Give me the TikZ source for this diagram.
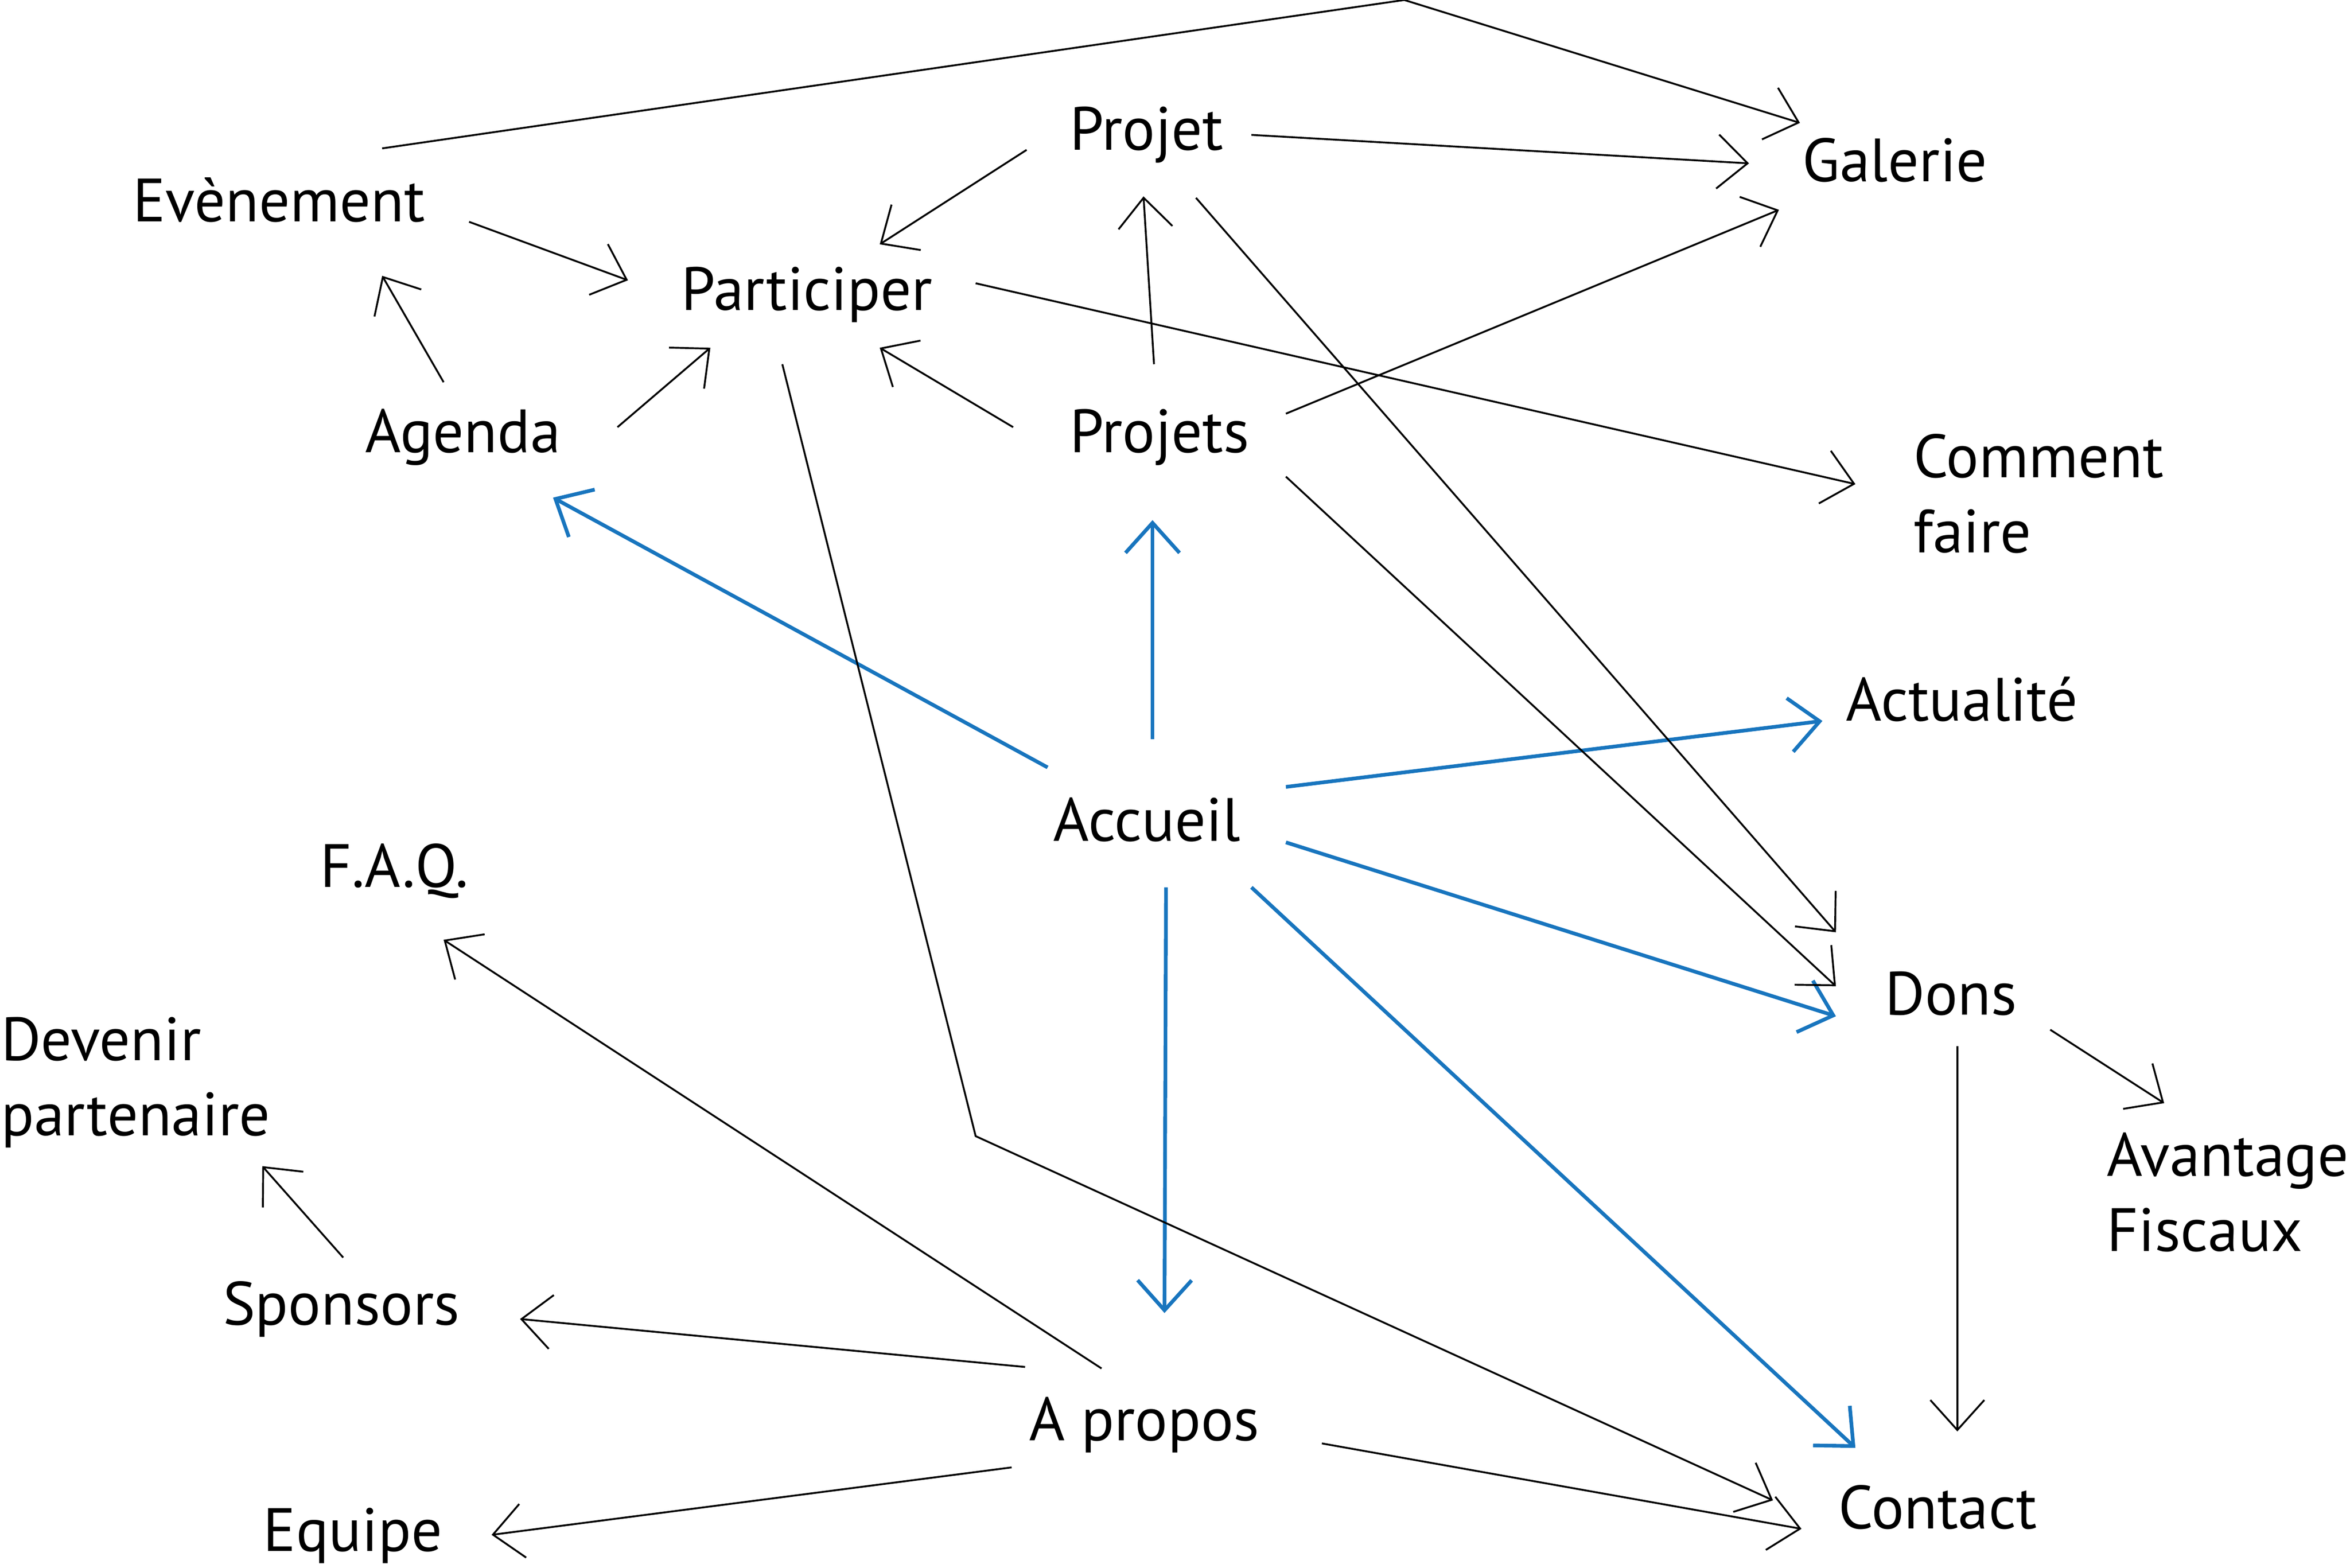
\documentclass[tikz,border=0pt]{standalone}
\usepackage{fontspec}
\newfontfamily\pagefont{PT Sans}
\usepackage{tikz}
\usetikzlibrary{arrows.meta}
\tikzset{
  page/.style={
    font=\pagefont\fontsize{11.6}{14.2}\selectfont,inner sep=0pt,anchor=base west,
  },
  pagetwo/.style={page,align=left,anchor=north west},
  link/.style={draw=black,line width=0.35pt,
    -{Straight Barb[length=2mm,width=3.6mm]}},
  mainlink/.style={draw=linkblue,line width=0.7pt,
    -{Straight Barb[length=2mm,width=3.6mm]}},
}

\begin{document}
\begin{tikzpicture}[x=0.01cm,y=-0.01cm]
% Defining colors
\definecolor{linkblue}{RGB}{24,117,190}

\useasboundingbox (0,0) rectangle (1568,1046);

% =:=:=:=:=:=:=:=:=:=:=:=:=:=:=:=:=:=:=
% Pages
% =:=:=:=:=:=:=:=:=:=:=:=:=:=:=:=:=:=:=
\node[page] (Evenement) at (88,148) {Evènement};
\node[page] (Projet) at (713,100) {Projet};
\node[page] (Galerie) at (1202,121) {Galerie};
\node[page] (Participer) at (454,207) {Participer};
\node[page] (Agenda) at (243,302) {Agenda};
\node[page] (Projets) at (713,302) {Projets};
\node[pagetwo] (Comment) at (1276,289) {Comment\\faire};
\node[page] (Actualite) at (1231,481) {Actualité};
\node[page] (Accueil) at (702,561) {Accueil};
\node[page] (FAQ) at (213,592) {F.A.Q.};
\node[pagetwo] (Devenir) at (0,678) {Devenir\\partenaire};
\node[page] (Dons) at (1257,677) {Dons};
\node[pagetwo] (Avantage) at (1405,755) {Avantage\\Fiscaux};
\node[page] (Sponsors) at (148,884) {Sponsors};
\node[page] (Apropos) at (686,961) {A propos};
\node[page] (Equipe) at (175,1035) {Equipe};
\node[page] (Contact) at (1226,1020) {Contact};

% bend points
\coordinate (apex) at (937,0);
\coordinate (bend) at (651,758);

% =:=:=:=:=:=:=:=:=:=:=:=:=:=:=:=:=:=:=
% Links from Accueil
% =:=:=:=:=:=:=:=:=:=:=:=:=:=:=:=:=:=:=
\draw[mainlink] ([shift={(-3,-49)}]Accueil.base west)
    -- ([shift={(126,30)}]Agenda.base west);
\draw[mainlink] ([shift={(67,-68)}]Accueil.base west)
    -- ([shift={(56,45)}]Projets.base west);
\draw[mainlink] ([shift={(156,-36)}]Accueil.base west)
    -- ([shift={(-15,0)}]Actualite.base west);
\draw[mainlink] ([shift={(156,1)}]Accueil.base west)
    -- ([shift={(-32,1)}]Dons.base west);
\draw[mainlink] ([shift={(76,31)}]Accueil.base west)
    -- ([shift={(91,-85)}]Apropos.base west);
\draw[mainlink] ([shift={(133,31)}]Accueil.base west)
    -- ([shift={(12,-54)}]Contact.base west);

% =:=:=:=:=:=:=:=:=:=:=:=:=:=:=:=:=:=:=
% Upper links
% =:=:=:=:=:=:=:=:=:=:=:=:=:=:=:=:=:=:=
\draw[link] ([shift={(167,-49)}]Evenement.base west)
    -- (apex) -- ([shift={(-1,-39)}]Galerie.base west);
\draw[link] ([shift={(122,-10)}]Projet.base west)
    -- ([shift={(-35,-12)}]Galerie.base west);
\draw[link] ([shift={(145,-26)}]Projets.base west)
    -- ([shift={(-15,19)}]Galerie.base west);
\draw[link] ([shift={(197,-18)}]Participer.base west)
    -- ([shift={(-38,34)}]Comment.north west);
\draw[link] ([shift={(-28,0)}]Projet.base west)
    -- ([shift={(133,-44)}]Participer.base west);
\draw[link] ([shift={(225,0)}]Evenement.base west)
    -- ([shift={(-35,-20)}]Participer.base west);
\draw[link] ([shift={(53,-47)}]Agenda.base west)
    -- ([shift={(167,36)}]Evenement.base west);
\draw[link] ([shift={(169,-17)}]Agenda.base west)
    -- ([shift={(20,25)}]Participer.base west);
\draw[link] ([shift={(-37,-17)}]Projets.base west)
    -- ([shift={(133,25)}]Participer.base west);
\draw[link] ([shift={(57,-59)}]Projets.base west)
    -- ([shift={(50,31)}]Projet.base west);

% =:=:=:=:=:=:=:=:=:=:=:=:=:=:=:=:=:=:=
% Links down to Dons and Contact
% =:=:=:=:=:=:=:=:=:=:=:=:=:=:=:=:=:=:=
\draw[link] ([shift={(68,36)}]Participer.base west)
    -- (bend) -- ([shift={(-43,-19)}]Contact.base west);
\draw[link] ([shift={(85,32)}]Projet.base west)
    -- ([shift={(-32,-55)}]Dons.base west);
\draw[link] ([shift={(145,16)}]Projets.base west)
    -- ([shift={(-32,-19)}]Dons.base west);
\draw[link] ([shift={(49,21)}]Dons.base west)
    -- ([shift={(80,-65)}]Contact.base west);
\draw[link] ([shift={(111,10)}]Dons.base west)
    -- ([shift={(39,-19)}]Avantage.north west);

% =:=:=:=:=:=:=:=:=:=:=:=:=:=:=:=:=:=:=
% Links from A propos
% =:=:=:=:=:=:=:=:=:=:=:=:=:=:=:=:=:=:=
\draw[link] ([shift={(49,-48)}]Apropos.base west)
    -- ([shift={(83,35)}]FAQ.base west);
\draw[link] ([shift={(-2,-49)}]Apropos.base west)
    -- ([shift={(199,-4)}]Sponsors.base west);
\draw[link] ([shift={(81,-45)}]Sponsors.base west)
    -- ([shift={(175,100)}]Devenir.north west);
\draw[link] ([shift={(-11,18)}]Apropos.base west)
    -- ([shift={(153,-11)}]Equipe.base west);
\draw[link] ([shift={(196,2)}]Apropos.base west)
    -- ([shift={(-24,0)}]Contact.base west);

\end{tikzpicture}
\end{document}
